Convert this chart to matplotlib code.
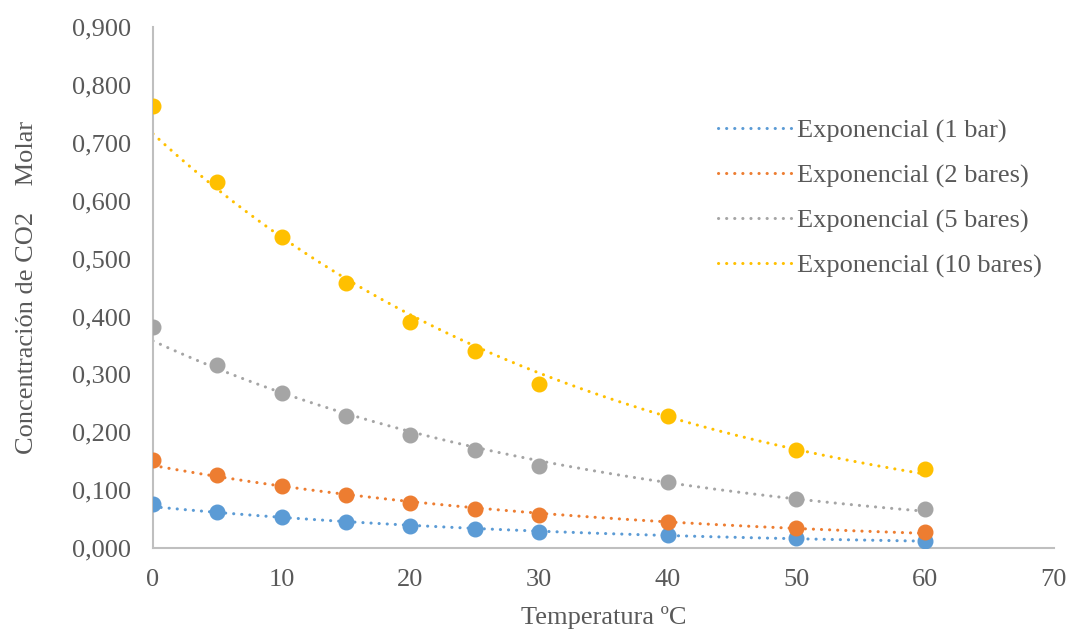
import numpy as np
import matplotlib
matplotlib.use("Agg")
import matplotlib.pyplot as plt
from matplotlib.ticker import FuncFormatter, MultipleLocator

plt.rcParams['font.family'] = ['Liberation Serif', 'DejaVu Serif']

temps = [0, 5, 10, 15, 20, 25, 30, 40, 50, 60]
c_1bar = [0.076, 0.062, 0.053, 0.045, 0.038, 0.033, 0.028, 0.022, 0.017, 0.012]
c_2bar = [0.152, 0.126, 0.107, 0.092, 0.078, 0.067, 0.057, 0.045, 0.034, 0.027]
c_5bar = [0.382, 0.316, 0.268, 0.228, 0.195, 0.169, 0.142, 0.114, 0.085, 0.067]
c_10bar = [0.764, 0.632, 0.537, 0.458, 0.390, 0.340, 0.283, 0.228, 0.169, 0.136]

series = [
    (c_1bar, '#5B9BD5', 'Exponencial (1 bar)'),
    (c_2bar, '#ED7D31', 'Exponencial (2 bares)'),
    (c_5bar, '#A5A5A5', 'Exponencial (5 bares)'),
    (c_10bar, '#FFC000', 'Exponencial (10 bares)'),
]

FS = 19
fig = plt.figure(figsize=(10.72, 6.3), dpi=100)
ax = fig.add_axes([0.1427, 0.130, 0.983 - 0.1427, 0.957 - 0.130])

x = np.array(temps, dtype=float)
xf = np.linspace(0, 60, 200)
for vals, col, lab in series:
    y = np.array(vals)
    b, a = np.polyfit(x, np.log(y), 1)
    ax.plot(xf, np.exp(a + b * xf), linestyle=(0, (0.05, 2.6)), dash_capstyle='round',
            lw=2.2, color=col, label=lab, zorder=2)
for vals, col, lab in series:
    ax.plot(x, vals, 'o', ms=10.5, color=col, zorder=3, label='_nolegend_')

ax.set_xlim(0, 70)
ax.set_ylim(0, 0.9)
ax.xaxis.set_major_locator(MultipleLocator(10))
ax.yaxis.set_major_locator(MultipleLocator(0.1))
ax.yaxis.set_major_formatter(FuncFormatter(lambda v, p: f"{v:.3f}".replace('.', ',')))

for s in ['top', 'right']:
    ax.spines[s].set_visible(False)
for s in ['left', 'bottom']:
    ax.spines[s].set_color('#BFBFBF')
    ax.spines[s].set_linewidth(1.5)
ax.tick_params(axis='y', length=0, labelsize=FS, labelcolor='#595959', pad=16)
ax.tick_params(axis='x', length=0, labelsize=FS, labelcolor='#595959', pad=15)

ax.set_xlabel('Temperatura ºC', fontsize=FS, color='#595959', labelpad=11)
ax.set_ylabel('Concentración de CO2    Molar', fontsize=FS, color='#595959', labelpad=24)

leg = fig.legend(loc='upper left', bbox_to_anchor=(718 / 1072, 1 - 119 / 630), frameon=False,
                 fontsize=FS, labelcolor='#595959', handlelength=2.8, handletextpad=0.2,
                 labelspacing=0.8, borderpad=0, borderaxespad=0)

fig.savefig('out.png', dpi=100)
